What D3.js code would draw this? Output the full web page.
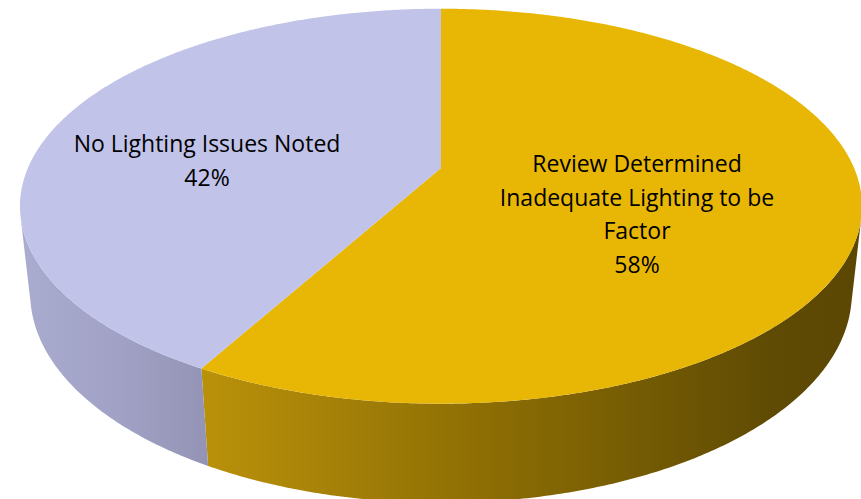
<!DOCTYPE html>
<html>
<head>
<meta charset="utf-8">
<script src="https://cdn.jsdelivr.net/npm/d3@7"></script>
<style>
  html, body { margin: 0; padding: 0; background: #ffffff; }
  svg { display: block; }
  text { font-family: "Open Sans", Lato, sans-serif; fill: #000; }
</style>
</head>
<body>
<svg id="chart" width="861" height="499"></svg>
<script>
// Categories and their shares (percent of reviewed cases)
const categories = ["Review Determined Inadequate Lighting to be Factor", "No Lighting Issues Noted"];
const shares = [58, 42];
// Label text broken into lines as shown on the slices
const labelLines = [
  ["Review Determined", "Inadequate Lighting to be", "Factor"],
  ["No Lighting Issues Noted"]
];
const topColors = ["#E8B705", "#C1C3E9"];

const W = 861, H = 499;
const svg = d3.select("#chart");

// --- 3D disc with a perspective camera -------------------------------
const cx = 441, cy = 168;          // screen position of the disc centre
const tilt = 27.4 * Math.PI / 180; // camera pitch
const dist = 4.59;                 // camera distance (disc radius = 1)
const focal = 1896;                // focal length in pixels
const thickness = 0.24;            // disc thickness (radius units)
const sa = Math.sin(tilt), ca = Math.cos(tilt);

// theta: clockwise from 12 o'clock (d3.pie convention); y: 0 = top face, -thickness = bottom
function project(theta, y, r = 1) {
  const X = r * Math.sin(theta), Z = r * Math.cos(theta);
  const vy = y - dist * sa, vz = Z + dist * ca;
  const yc = vy * ca + vz * sa;
  const zc = -vy * sa + vz * ca;
  return [cx + focal * X / zc, cy - focal * yc / zc];
}

const data = categories.map((c, i) => ({ name: c, value: shares[i], color: topColors[i], lines: labelLines[i] }));
const arcs = d3.pie().sort(null).value(d => d.value).startAngle(0).endAngle(2 * Math.PI)(data);

const line = d3.line();
const step = Math.PI / 360;
function sampleArc(a0, a1, y) {
  const n = Math.max(2, Math.ceil(Math.abs(a1 - a0) / step));
  return d3.range(n + 1).map(i => project(a0 + (a1 - a0) * i / n, y));
}

// Side wall faces the camera where the outward normal points toward it
const sinLimit = -1 / (dist * ca);            // sin(phi) < sinLimit, phi = 90deg - theta
const visStart = Math.PI / 2 - Math.asin(sinLimit);       // theta range of the front wall
const visEnd = 2 * Math.PI - visStart;

// Wall shading: horizontal gradients
const defs = svg.append("defs");
const wallGradients = [
  { id: "wall0", stops: [[212, "#B8900A"], [500, "#8B6C04"], [770, "#5F4B03"], [861, "#5B4703"]] },
  { id: "wall1", stops: [[18, "#AAACD0"], [120, "#A0A1C4"], [212, "#9393B5"]] }
];
wallGradients.forEach(g => {
  const lg = defs.append("linearGradient").attr("id", g.id)
    .attr("gradientUnits", "userSpaceOnUse")
    .attr("x1", g.stops[0][0]).attr("x2", g.stops[g.stops.length - 1][0])
    .attr("y1", 0).attr("y2", 0);
  const span = g.stops[g.stops.length - 1][0] - g.stops[0][0];
  g.stops.forEach(([x, col]) => lg.append("stop")
    .attr("offset", (x - g.stops[0][0]) / span).attr("stop-color", col));
});

const walls = svg.append("g").attr("class", "walls");
arcs.forEach((a, i) => {
  const t0 = Math.max(a.startAngle, visStart), t1 = Math.min(a.endAngle, visEnd);
  if (t1 <= t0) return;
  const topPts = sampleArc(t0, t1, 0);
  const botPts = sampleArc(t1, t0, -thickness);
  walls.append("path")
    .attr("d", line(topPts.concat(botPts)) + "Z")
    .attr("fill", `url(#wall${i})`);
});

// Top faces
const tops = svg.append("g").attr("class", "tops");
arcs.forEach(a => {
  const pts = [project(0, 0, 0)].concat(sampleArc(a.startAngle, a.endAngle, 0));
  tops.append("path")
    .attr("d", line(pts) + "Z")
    .attr("fill", a.data.color);
});

// Data labels (category + percentage), centred on each slice
const labelPos = [{ x: 637, y: 172 }, { x: 207, y: 152 }];
const lineGap = 33.6;
arcs.forEach((a, i) => {
  const lines = a.data.lines.concat([`${a.data.value}%`]);
  const t = svg.append("text")
    .attr("text-anchor", "middle")
    .attr("font-size", 23);
  lines.forEach((s, j) => t.append("tspan")
    .attr("x", labelPos[i].x)
    .attr("y", labelPos[i].y + j * lineGap)
    .text(s));
});
</script>
</body>
</html>
